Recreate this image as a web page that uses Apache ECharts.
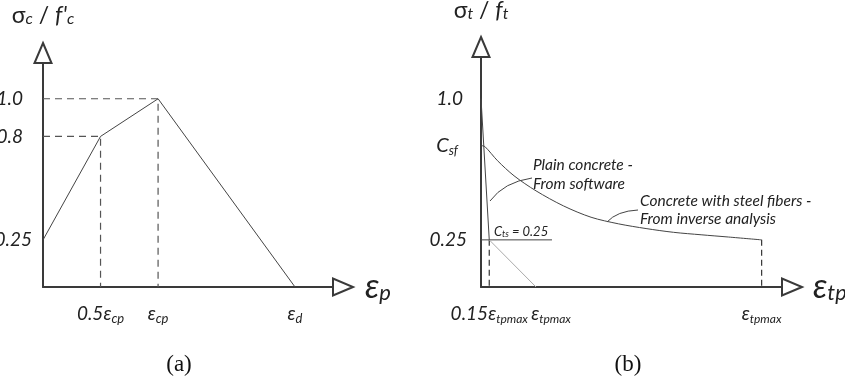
<!DOCTYPE html>
<html>
<head>
<meta charset="utf-8">
<script src="https://cdn.jsdelivr.net/npm/echarts@6/dist/echarts.min.js"></script>
<style>
  html, body { margin: 0; padding: 0; background: #fff; }
  #chart { width: 845px; height: 379px; }
</style>
</head>
<body>
<div id="chart"></div>
<script>
// (a) compression: normalised stress vs plastic strain (units of eps_cp)
const compStrain = [0, 0.5, 1.0, 2.19];
const compStress = [0.25, 0.8, 1.0, 0];
const compXTicks = [0.5, 1.0, 2.19];
const compXLabels = ['{n|0.5ε}{s|cp}', '{n|ε}{s|cp}', '{n|ε}{s|d}'];
const compYTicks = [0.25, 0.8, 1.0];
const compYLabels = ['{v|0.25}', '{w|0.8}', '{w|1.0}'];

// (b) tension: plain concrete (bilinear) and concrete with steel fibres
const plainStrain = [0, 0.15];
const plainStress = [1.0, 0.25];
const plainTailStrain = [0.15, 1.0];
const plainTailStress = [0.25, 0];
const fiberStrain = [0, 0.07, 0.3, 0.6, 1.0, 1.5, 2.0, 2.5, 3.0, 3.5, 4.0, 4.5, 5.1];
const fiberStress = [0.75, 0.745, 0.67, 0.59, 0.51, 0.43, 0.37, 0.335, 0.31, 0.29, 0.277, 0.265, 0.25];
const ctsLevel = 0.25;
const ctsExtent = [0, 1.29];
const tensXTicks = [0.15, 5.1];
const tensXLabels = ['{n|0.15ε}{t|tpmax}', '{n|ε}{t|tpmax}'];
const plainEndTicks = [1.0];
const plainEndLabels = ['{gap|}{n|ε}{t|tpmax}'];
const tensYTicks = [0.25, 0.75, 1.0];
const tensYLabels = ['{v|0.25}', '{c|C}{cs|sf}{csp|}', '{u|1.0}'];

const zip = (xs, ys) => xs.map((x, i) => [x, ys[i]]);
const pick = (ticks, labels) => v => {
  let best = 0;
  ticks.forEach((t, i) => { if (Math.abs(t - v) < Math.abs(ticks[best] - v)) best = i; });
  return labels[best];
};

const FONT = 'Lato';
const AXIS_COLOR = '#3a3a3a';
const LINE_COLOR = '#444';

const yNum = { fontFamily: FONT, fontStyle: 'italic', fontSize: 19, color: '#222', lineHeight: 24 };
const tickRich = {
  n: { fontFamily: FONT, fontStyle: 'italic', fontSize: 19, color: '#222', lineHeight: 24 },
  s: { fontFamily: FONT, fontStyle: 'italic', fontSize: 13, color: '#222', lineHeight: 24, padding: [10, 0, 0, 0] },
  t: { fontFamily: FONT, fontStyle: 'italic', fontSize: 12, color: '#222', lineHeight: 24, padding: [10, 0, 0, 0] },
  gap: { width: 30, lineHeight: 24 }
};
const compYRich = {
  v: yNum,
  w: Object.assign({}, yNum, { padding: [0, 9, 0, 0] })
};
const tensYRich = {
  v: yNum,
  u: Object.assign({}, yNum, { padding: [0, 4, 0, 0] }),
  c: { fontFamily: FONT, fontStyle: 'italic', fontSize: 20, color: '#222', lineHeight: 24 },
  cs: { fontFamily: FONT, fontStyle: 'italic', fontSize: 13, color: '#222', lineHeight: 24, padding: [11, 0, 0, 0] },
  csp: { width: 9, lineHeight: 24 }
};
const nameRich = {
  g: { fontFamily: FONT, fontSize: 23, color: '#222', lineHeight: 26 },
  f: { fontFamily: FONT, fontStyle: 'italic', fontSize: 23, color: '#222', lineHeight: 26 },
  sub: { fontFamily: FONT, fontStyle: 'italic', fontSize: 16, color: '#222', lineHeight: 26, padding: [6, 0, 0, 0] },
  e: { fontFamily: FONT, fontStyle: 'italic', fontSize: 34, color: '#222', lineHeight: 36 },
  es: { fontFamily: FONT, fontStyle: 'italic', fontSize: 22, color: '#222', lineHeight: 36, padding: [12, 0, 0, 0] }
};

function axisLine(symbol) {
  return {
    show: true,
    symbol: symbol,
    symbolSize: [17, 20],
    symbolOffset: [0, 10],
    lineStyle: { color: AXIS_COLOR, width: 2 }
  };
}

const labelBase = { hideOverlap: false, showMinLabel: true, showMaxLabel: true };
const TENS_X_MAX = 5.47;

const option = {
  animation: false,
  backgroundColor: '#fff',
  grid: [
    { left: 43, top: 63, width: 290, height: 224, containLabel: false, outerBoundsMode: 'none' },
    { left: 481, top: 57, width: 301, height: 230, containLabel: false, outerBoundsMode: 'none' }
  ],
  xAxis: [
    {
      gridIndex: 0, type: 'value', min: 0, max: 2.52,
      name: '{e|ε}{es|p}', nameLocation: 'end', nameGap: 32,
      nameTextStyle: { rich: nameRich, verticalAlign: 'middle' },
      axisLine: axisLine(['none', 'emptyTriangle']),
      axisTick: { show: false }, splitLine: { show: false },
      axisLabel: Object.assign({}, labelBase, {
        customValues: compXTicks, margin: 15,
        formatter: pick(compXTicks, compXLabels), rich: tickRich
      })
    },
    {
      gridIndex: 1, type: 'value', min: 0, max: TENS_X_MAX,
      name: '{e|ε}{es|tp}', nameLocation: 'end', nameGap: 31,
      nameTextStyle: { rich: nameRich, verticalAlign: 'middle' },
      axisLine: axisLine(['none', 'emptyTriangle']),
      axisTick: { show: false }, splitLine: { show: false },
      axisLabel: Object.assign({}, labelBase, {
        customValues: tensXTicks, margin: 15,
        formatter: pick(tensXTicks, tensXLabels), rich: tickRich
      })
    },
    {
      // label for the plain-concrete end strain, kept on its own axis so it sits beside 0.15
      gridIndex: 1, type: 'value', min: 0, max: TENS_X_MAX, position: 'bottom',
      axisLine: { show: false }, axisTick: { show: false }, splitLine: { show: false },
      axisLabel: Object.assign({}, labelBase, {
        customValues: plainEndTicks, margin: 15,
        formatter: pick(plainEndTicks, plainEndLabels), rich: tickRich
      })
    }
  ],
  yAxis: [
    {
      gridIndex: 0, type: 'value', min: 0, max: 1.19,
      name: "{g|σ}{sub|c}{g| / }{f|f'}{sub|c}", nameLocation: 'end', nameGap: 34,
      nameTextStyle: { rich: nameRich, align: 'center' },
      axisLine: axisLine(['none', 'emptyTriangle']),
      axisTick: { show: false }, splitLine: { show: false },
      axisLabel: Object.assign({}, labelBase, {
        customValues: compYTicks, margin: 11,
        formatter: pick(compYTicks, compYLabels), rich: compYRich
      })
    },
    {
      gridIndex: 1, type: 'value', min: 0, max: 1.22,
      name: '{g|σ}{sub|t}{g| / }{f|f}{sub|t}', nameLocation: 'end', nameGap: 33,
      nameTextStyle: { rich: nameRich, align: 'center' },
      axisLine: axisLine(['none', 'emptyTriangle']),
      axisTick: { show: false }, splitLine: { show: false },
      axisLabel: Object.assign({}, labelBase, {
        customValues: tensYTicks, margin: 14,
        formatter: pick(tensYTicks, tensYLabels), rich: tensYRich
      })
    }
  ],
  series: [
    // (a) guide lines to the peak and to the 0.8 point
    {
      type: 'line', xAxisIndex: 0, yAxisIndex: 0, symbol: 'none', silent: true,
      data: [[0, compStress[2]], [compStrain[2], compStress[2]], [compStrain[2], 0]],
      lineStyle: { color: '#555', width: 1.2, type: [7, 5] }
    },
    {
      type: 'line', xAxisIndex: 0, yAxisIndex: 0, symbol: 'none', silent: true,
      data: [[0, compStress[1]], [compStrain[1], compStress[1]], [compStrain[1], 0]],
      lineStyle: { color: '#555', width: 1.2, type: [7, 5] }
    },
    // (a) compression curve
    {
      type: 'line', xAxisIndex: 0, yAxisIndex: 0, symbol: 'none',
      data: zip(compStrain, compStress),
      lineStyle: { color: LINE_COLOR, width: 1 }
    },
    // (b) dashed drops at 0.15 eps_tpmax and at the fibre end strain
    {
      type: 'line', xAxisIndex: 1, yAxisIndex: 1, symbol: 'none', silent: true,
      data: [[plainStrain[1], plainStress[1]], [plainStrain[1], 0]],
      lineStyle: { color: '#333', width: 1.2, type: [6, 4] }
    },
    {
      type: 'line', xAxisIndex: 1, yAxisIndex: 1, symbol: 'none', silent: true,
      data: [[fiberStrain[fiberStrain.length - 1], fiberStress[fiberStress.length - 1]],
             [fiberStrain[fiberStrain.length - 1], 0]],
      lineStyle: { color: '#333', width: 1.2, type: [6, 4] }
    },
    // (b) C_ts = 0.25 level
    {
      type: 'line', xAxisIndex: 1, yAxisIndex: 1, symbol: 'none',
      data: ctsExtent.map(x => [x, ctsLevel]),
      lineStyle: { color: LINE_COLOR, width: 1 }
    },
    // (b) plain concrete, software softening
    {
      type: 'line', xAxisIndex: 1, yAxisIndex: 1, symbol: 'none',
      data: zip(plainStrain, plainStress),
      lineStyle: { color: LINE_COLOR, width: 1 }
    },
    {
      type: 'line', xAxisIndex: 1, yAxisIndex: 1, symbol: 'none',
      data: zip(plainTailStrain, plainTailStress),
      lineStyle: { color: '#aaa', width: 1 }
    },
    // (b) concrete with steel fibres, inverse analysis
    {
      type: 'line', xAxisIndex: 1, yAxisIndex: 1, symbol: 'none', smooth: 0.3,
      data: zip(fiberStrain, fiberStress),
      lineStyle: { color: LINE_COLOR, width: 1 }
    }
  ],
  graphic: [
    { type: 'text', x: 533, y: 165, style: { text: 'Plain concrete -', font: 'italic 15.5px Lato', fill: '#222', verticalAlign: 'middle' } },
    { type: 'text', x: 533, y: 184, style: { text: 'From software', font: 'italic 15.5px Lato', fill: '#222', verticalAlign: 'middle' } },
    { type: 'text', x: 640, y: 201, style: { text: 'Concrete with steel fibers -', font: 'italic 15.5px Lato', fill: '#222', verticalAlign: 'middle' } },
    { type: 'text', x: 640, y: 219, style: { text: 'From inverse analysis', font: 'italic 15.5px Lato', fill: '#222', verticalAlign: 'middle' } },
    {
      type: 'text', x: 494, y: 232,
      style: {
        text: '{c|C}{s|ts}{c| = 0.25}', verticalAlign: 'middle',
        rich: {
          c: { fontFamily: FONT, fontStyle: 'italic', fontSize: 13, fill: '#222', lineHeight: 14 },
          s: { fontFamily: FONT, fontStyle: 'italic', fontSize: 9, fill: '#222', lineHeight: 14, padding: [4, 0, 0, 0] }
        }
      }
    },
    { type: 'bezierCurve', shape: { x1: 490, y1: 201, x2: 532, y2: 178, cpx1: 504, cpy1: 182 }, style: { stroke: '#444', lineWidth: 1, fill: null } },
    { type: 'bezierCurve', shape: { x1: 607, y1: 222, x2: 638, y2: 210, cpx1: 617, cpy1: 211 }, style: { stroke: '#444', lineWidth: 1, fill: null } },
    { type: 'text', x: 179, y: 365, style: { text: '(a)', font: '23px "Liberation Serif"', fill: '#111', align: 'center', verticalAlign: 'middle' } },
    { type: 'text', x: 628, y: 365, style: { text: '(b)', font: '23px "Liberation Serif"', fill: '#111', align: 'center', verticalAlign: 'middle' } }
  ]
};

const chart = echarts.init(document.getElementById('chart'), null, { renderer: 'canvas' });
chart.setOption(option);
</script>
</body>
</html>
